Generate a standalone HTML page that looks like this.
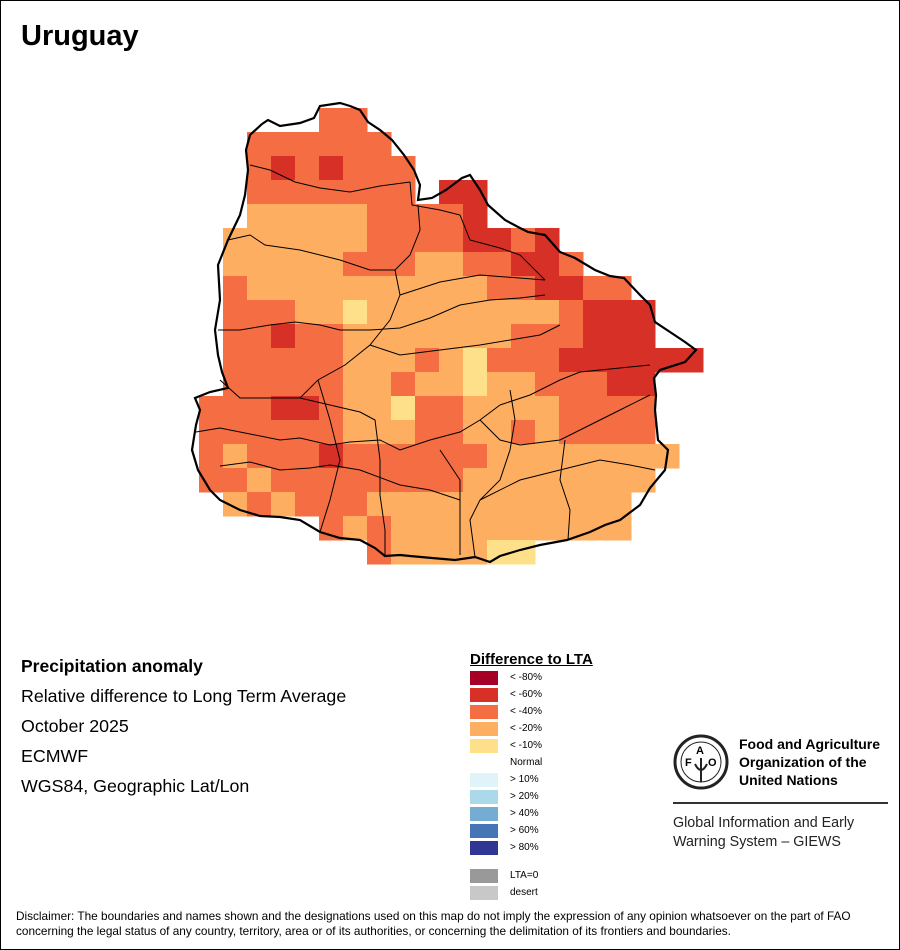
<!DOCTYPE html>
<html><head><meta charset="utf-8"><style>
html,body{margin:0;padding:0;background:#fff}
#p{position:relative;width:898px;height:948px;border:1px solid #000;overflow:hidden;font-family:"Liberation Sans",sans-serif}
.t{position:absolute;white-space:nowrap}
</style></head><body><div id="p">
<div class="t" style="left:20px;top:19px;font-size:29px;font-weight:bold">Uruguay</div>
<svg id="m" width="900" height="620" style="position:absolute;left:-1px;top:-1px"></svg>
<div class="t" style="left:20px;top:655px;font-size:17.5px;font-weight:bold">Precipitation anomaly</div>
<div class="t" style="left:20px;top:685px;font-size:17.8px">Relative difference to Long Term Average</div>
<div class="t" style="left:20px;top:715px;font-size:17.8px">October 2025</div>
<div class="t" style="left:20px;top:745px;font-size:17.8px">ECMWF</div>
<div class="t" style="left:20px;top:775px;font-size:17.8px">WGS84, Geographic Lat/Lon</div>
<div class="t" style="left:469px;top:650px;font-size:15px;font-weight:bold;text-decoration:underline">Difference to LTA</div>
<div id="leg"></div>
<svg width="60" height="60" style="position:absolute;left:670px;top:731px" viewBox="0 0 60 60">
<circle cx="30" cy="30" r="26" fill="none" stroke="#222" stroke-width="3"/>
<circle cx="30" cy="30" r="20" fill="none" stroke="#222" stroke-width="1"/>
<text x="14" y="34" font-size="11" font-weight="bold" font-family="Liberation Sans">F</text>
<text x="25" y="22" font-size="11" font-weight="bold" font-family="Liberation Sans">A</text>
<text x="37" y="34" font-size="11" font-weight="bold" font-family="Liberation Sans">O</text>
<path d="M30 26 L30 50 M24 32 Q30 44 36 32" stroke="#222" stroke-width="2" fill="none"/>
</svg>
<div class="t" style="left:738px;top:734px;font-size:14px;font-weight:bold;line-height:18px">Food and Agriculture<br>Organization of the<br>United Nations</div>
<div style="position:absolute;left:672px;top:801px;width:215px;height:2px;background:#333"></div>
<div class="t" style="left:672px;top:813px;font-size:14.3px;line-height:19px;color:#222">Global Information and Early<br>Warning System – GIEWS</div>
<div class="t" style="left:15px;top:908px;font-size:11.8px;line-height:15px">Disclaimer: The boundaries and names shown and the designations used on this map do not imply the expression of any opinion whatsoever on the part of FAO<br>concerning the legal status of any country, territory, area or of its authorities, or concerning the delimitation of its frontiers and boundaries.</div>
</div>
<script>
var rows=[
".....BB..............",
"..BBBBBB.............",
"..BABABBB............",
"..BBBBBBB.AA.........",
"..CCCCCBBBBA.........",
".CCCCCCBBBBAABA......",
".CCCCCBBBCCBBAAB.....",
".BCCCCCCCCCCBBAABB...",
".BBBCCDCCCCCCCCBAAA..",
".BBABBCCCCCCCBBBAAA..",
".BBBBBCCCBCDBBBAAAAAA",
".BBBBBCCBCCDCCBBBAA..",
"BBBAABCCDBBCCCCBBBB..",
"BBBBBBCCCBBCCBCBBBB..",
"BCBBBABBBBBBCCCCCCCC.",
"BBCBBBBBBBBCCCCCCCC..",
".CBCBBBCCCCCCCCCCC...",
".....BCBCCCCCCCCCC...",
".......BCCCCDD......."];
var col={A:"#d73027",B:"#f46d43",C:"#fdae61",D:"#fee08b"};
var s="";
for(var r=0;r<rows.length;r++)for(var c=0;c<21;c++){var k=rows[r][c];if(col[k])s+='<rect x="'+(199+c*24)+'" y="'+(108+r*24)+'" width="24.5" height="24.5" fill="'+col[k]+'"/>';}
var outline="262,124 268,120 280,126 300,123 314,118 320,106 340,103 350,106 360,110 368,122 380,130 392,140 404,155 414,170 420,185 418,200 432,198 446,190 462,178 470,175 480,190 488,205 505,220 520,228 528,232 545,235 560,252 575,258 595,270 610,276 624,278 640,295 650,305 655,322 670,332 685,342 696,350 685,362 660,370 654,378 656,395 655,410 658,440 668,450 665,470 650,488 640,505 620,520 605,525 590,532 567,540 540,545 520,550 500,556 490,562 475,557 455,560 432,558 410,556 400,555 385,556 375,548 360,540 340,538 320,532 300,520 280,517 260,516 240,510 220,500 210,490 198,470 192,450 196,425 200,410 195,398 210,392 228,388 222,372 218,355 215,330 220,300 218,265 228,240 240,215 245,195 248,170 246,150 250,135 262,124";
s+='<polyline points="'+outline+'" fill="none" stroke="#000" stroke-width="2.2"/>';
var lines=[
"250,165 270,170 295,182 320,188 350,192 380,186 410,182",
"410,182 412,205 440,210 460,215 470,240 500,248 520,255 535,270 545,280",
"228,240 250,235 265,245 300,250 340,260 370,270 395,270 410,255 420,230 418,205",
"395,270 400,295 390,320 370,345 345,365 318,380 300,398 270,398 240,398 220,380",
"218,330 240,330 270,325 295,322 320,325 340,330 370,330",
"370,330 400,328 430,318 460,305 490,300 520,298 545,295",
"400,295 440,282 480,275 545,280",
"370,345 400,355 440,350 480,345 510,340 540,335 560,325",
"318,380 330,420 340,460 330,500 320,532",
"300,398 330,405 360,412 375,420 380,460 380,495 385,530 385,556",
"196,432 220,428 250,434 280,440 300,438 330,445 350,442 380,440 400,450 430,440 460,432 480,420 500,405",
"500,405 530,395 560,380 580,372 620,368 650,365",
"480,420 500,440 520,445 560,440 590,425 620,410 650,395",
"510,390 515,420 510,450 500,480 480,500 470,520 475,557",
"565,440 560,480 570,510 568,540",
"480,500 520,480 560,470 600,460 630,465 655,470",
"440,450 460,480 460,520 460,555",
"220,466 250,462 280,470 310,468 330,465 360,470 400,485 430,490 460,500"];
for(var i=0;i<lines.length;i++)s+='<polyline points="'+lines[i]+'" fill="none" stroke="#000" stroke-width="1"/>';
document.getElementById("m").innerHTML=s;
var leg=[["#a50026","< -80%",671],["#d73027","< -60%",688],["#f46d43","< -40%",705],["#fdae61","< -20%",722],["#fee08b","< -10%",739],[null,"Normal",756],["#e0f3f8","> 10%",773],["#abd9e9","> 20%",790],["#74add1","> 40%",807],["#4575b4","> 60%",824],["#313695","> 80%",841],["#999999","LTA=0",869],["#c8c8c8","desert",886]];
var h="";
for(var i=0;i<leg.length;i++){var L=leg[i];if(L[0])h+='<div style="position:absolute;left:469px;top:'+(L[2]-1)+'px;width:28px;height:14px;background:'+L[0]+'"></div>';h+='<div class="t" style="left:509px;top:'+(L[2])+'px;font-size:10px">'+L[1]+'</div>';}
document.getElementById("leg").innerHTML=h;
</script>
</body></html>
